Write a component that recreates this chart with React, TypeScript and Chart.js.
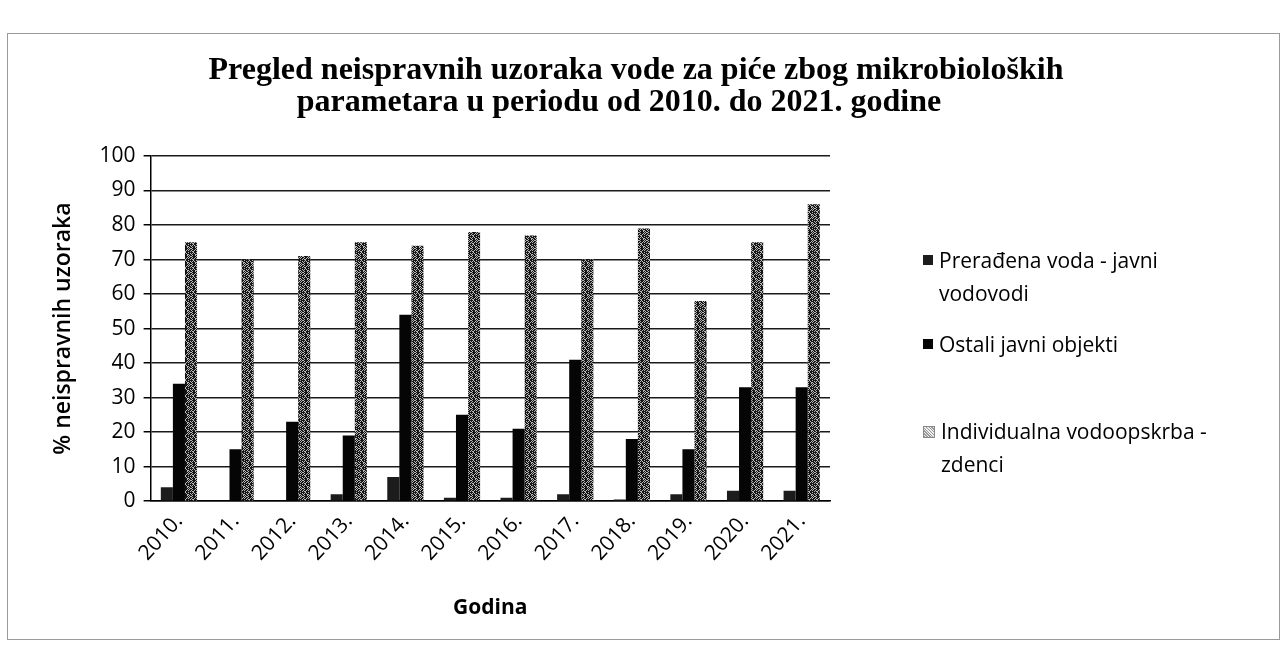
import React, { useEffect, useRef } from "react";
import { Chart, registerables } from "chart.js";

Chart.register(...registerables);

const categories = ["2010.", "2011.", "2012.", "2013.", "2014.", "2015.", "2016.", "2017.", "2018.", "2019.", "2020.", "2021."];
const seriesNames = ["Prerađena voda - javni vodovodi", "Ostali javni objekti", "Individualna vodoopskrba - zdenci"];
const preradjenaVoda = [4, 0, 0, 2, 7, 1, 1, 2, 0.5, 2, 3, 3];
const ostaliObjekti = [34, 15, 23, 19, 54, 25, 21, 41, 18, 15, 33, 33];
const zdenci = [75, 70, 71, 75, 74, 78, 77, 70, 79, 58, 75, 86];
const yTicks = [0, 10, 20, 30, 40, 50, 60, 70, 80, 90, 100];
const titleLine1 = "Pregled neispravnih uzoraka vode za piće zbog mikrobioloških";
const titleLine2 = "parametara u periodu od 2010. do 2021. godine";

function makeSpeckle(): CanvasPattern | string {
  const c = document.createElement("canvas");
  c.width = 8;
  c.height = 8;
  const g = c.getContext("2d");
  if (!g) return "#666";
  g.fillStyle = "#b8b8b8";
  g.fillRect(0, 0, 8, 8);
  g.fillStyle = "#161616";
  const rows = ["11110100", "01101011", "11010110", "00111101", "10110111", "01011101", "11100110", "01101011"];
  rows.forEach((r, y) => {
    for (let x = 0; x < 8; x++) if (r[x] === "1") g.fillRect(x, y, 1, 1);
  });
  const p = g.createPattern(c, "repeat");
  return p || "#666";
}

export default function App() {
  const ref = useRef<HTMLCanvasElement | null>(null);
  useEffect(() => {
    if (!ref.current) return;
    const speckle = makeSpeckle();
    const font = "'Open Sans', 'Noto Sans', sans-serif";
    const chart = new Chart(ref.current, {
      type: "bar",
      data: {
        labels: categories,
        datasets: [
          { label: seriesNames[0], data: preradjenaVoda, backgroundColor: "#1c1c1c", barPercentage: 1, categoryPercentage: 0.64 },
          { label: seriesNames[1], data: ostaliObjekti, backgroundColor: "#050505", barPercentage: 1, categoryPercentage: 0.64 },
          { label: seriesNames[2], data: zdenci, backgroundColor: speckle as any, barPercentage: 1, categoryPercentage: 0.64 },
        ],
      },
      options: {
        responsive: false,
        maintainAspectRatio: false,
        animation: false,
        layout: { padding: { left: 46, right: 452, top: 156, bottom: 30 } },
        plugins: {
          legend: { display: false },
          tooltip: { enabled: false },
        },
        scales: {
          x: {
            grid: { display: false, drawTicks: false },
            border: { display: true, color: "#000", width: 1.5 },
            ticks: {
              color: "#000",
              font: { family: font, size: 21 },
              minRotation: 48,
              maxRotation: 48,
              padding: 8,
            },
            title: { display: true, text: "Godina", color: "#000", font: { family: font, size: 21, weight: "bold" }, padding: { top: 22 } },
          },
          y: {
            min: 0,
            max: 100,
            afterBuildTicks: (axis: any) => {
              axis.ticks = yTicks.map((v) => ({ value: v }));
            },
            grid: { color: "#1a1a1a", lineWidth: 1.5, tickLength: 7, tickColor: "#000" },
            border: { display: true, color: "#000", width: 1.5 },
            ticks: { color: "#000", font: { family: font, size: 21 }, padding: 8 },
            title: { display: true, text: "% neispravnih uzoraka", color: "#000", font: { family: font, size: 23, weight: "600" }, padding: { bottom: 14 } },
          },
        },
      },
    });
    return () => chart.destroy();
  }, []);

  const legendItem = (color: string, lines: string[], top: number, speck = false) => (
    <div style={{ position: "absolute", left: 923, top, display: "flex", alignItems: "flex-start" }}>
      <div
        style={{
          width: 10,
          height: 10,
          marginTop: 11,
          marginRight: 6,
          background: speck ? "repeating-linear-gradient(45deg,#999 0 1px,#eee 1px 2px)" : color,
          border: speck ? "1px solid #888" : "none",
        }}
      />
      <div style={{ fontFamily: "'Open Sans', sans-serif", fontSize: 21, lineHeight: "33px", color: "#000" }}>
        {lines.map((l, i) => (
          <div key={i}>{l}</div>
        ))}
      </div>
    </div>
  );

  const titleStyle: React.CSSProperties = {
    position: "absolute",
    fontFamily: "'Liberation Serif', 'DejaVu Serif', serif",
    fontWeight: "bold",
    fontSize: 32,
    lineHeight: "32px",
    color: "#000",
    textAlign: "center",
    whiteSpace: "nowrap",
    width: 1000,
  };

  return (
    <div style={{ position: "fixed", left: 0, top: 0, width: 1282, height: 655, background: "#fff", overflow: "hidden" }}>
      <div style={{ position: "absolute", left: 7, top: 33, width: 1273, height: 607, border: "1px solid #9a9a9a", boxSizing: "border-box" }} />
      <canvas ref={ref} width={1282} height={655} style={{ position: "absolute", left: 0, top: 0 }} />
      <div style={{ ...titleStyle, left: 136, top: 52 }}>{titleLine1}</div>
      <div style={{ ...titleStyle, left: 119, top: 84 }}>{titleLine2}</div>
      {legendItem("#1c1c1c", ["Prerađena voda - javni", "vodovodi"], 244)}
      {legendItem("#050505", ["Ostali javni objekti"], 328)}
      {legendItem("#aaa", ["Individualna vodoopskrba -", "zdenci"], 415, true)}
    </div>
  );
}
